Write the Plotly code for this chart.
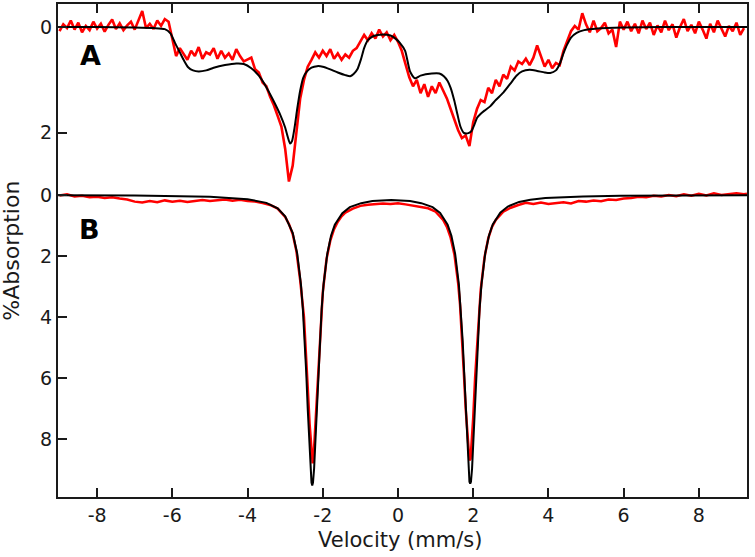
import numpy as np
import plotly.graph_objects as go

# Panel A, measured spectrum: one value per 0.1 mm/s channel, starting at -9.0 mm/s
A_START = -9.0
A_STEP = 0.1
a_data = [
    0.08, -0.05, 0.02, -0.12, 0.05, -0.08, 0.10, -0.02, 0.06, -0.10,   # -9.0 .. -8.1
    0.03, -0.06, 0.09, -0.04, -0.14, 0.04, -0.07, 0.06, -0.03, -0.10,  # -8.0 .. -7.1
    0.05, -0.12, -0.30, 0.02, -0.06, 0.04, -0.12, -0.02, -0.15, -0.10, # -7.0 .. -6.1
    0.25, 0.55, 0.40, 0.50, 0.62, 0.45, 0.55, 0.38, 0.60, 0.48,        # -6.0 .. -5.1
    0.52, 0.40, 0.60, 0.45, 0.58, 0.50, 0.62, 0.42, 0.55, 0.65,        # -5.0 .. -4.1
    0.62, 0.58, 0.80, 0.86, 1.05, 1.12, 1.32, 1.48, 1.68, 1.88,        # -4.0 .. -3.1
    2.30, 2.92, 2.62, 2.00, 1.35, 1.00, 0.75, 0.62, 0.48, 0.58,        # -3.0 .. -2.1
    0.45, 0.55, 0.42, 0.60, 0.50, 0.62, 0.52, 0.58, 0.45, 0.40,        # -2.0 .. -1.1
    0.28, 0.15, 0.25, 0.12, 0.22, 0.05, 0.18, 0.10, 0.25, 0.15,        # -1.0 .. -0.1
    0.28, 0.45, 0.70, 0.95, 1.12, 1.00, 1.25, 1.08, 1.32, 1.12,        # 0.0 .. 0.9
    1.25, 1.05, 1.20, 1.35, 1.55, 1.75, 1.95, 2.10, 2.05, 2.25,        # 1.0 .. 1.9
    1.80, 1.55, 1.38, 1.42, 1.15, 1.25, 1.00, 1.12, 0.90, 0.98,        # 2.0 .. 2.9
    0.75, 0.82, 0.65, 0.70, 0.60, 0.72, 0.58, 0.35, 0.55, 0.75,        # 3.0 .. 3.9
    0.62, 0.78, 0.68, 0.72, 0.45, 0.25, 0.08, -0.02, 0.05, -0.26,      # 4.0 .. 4.9
    -0.05, 0.10, -0.12, 0.08, 0.02, -0.08, 0.12, 0.05, 0.38, -0.10,    # 5.0 .. 5.9
    0.05, -0.10, 0.08, -0.06, 0.12, -0.12, 0.04, -0.08, 0.15, -0.03,   # 6.0 .. 6.9
    0.10, -0.12, 0.06, -0.05, 0.20, 0.00, -0.15, 0.08, -0.04, 0.12,    # 7.0 .. 7.9
    -0.10, 0.05, 0.22, -0.06, 0.10, -0.12, 0.04, 0.18, -0.02, 0.08,    # 8.0 .. 8.9
    -0.08, 0.15, 0.02,                                                 # 9.0 .. 9.2
]

# Panel A, fit
a_fit_v = [-9.04, -8.0, -7.0, -6.5, -6.2, -6.05, -5.93, -5.8, -5.7, -5.58,
           -5.45, -5.3, -5.1, -4.9, -4.6, -4.3, -4.1, -3.9, -3.7, -3.53,
           -3.4, -3.27, -3.13, -3.0, -2.93, -2.87, -2.82, -2.75, -2.68, -2.6,
           -2.52, -2.42, -2.3, -2.15, -2.0, -1.8, -1.6, -1.4, -1.27, -1.18,
           -1.08, -0.98, -0.9, -0.8, -0.65, -0.4, -0.2, -0.05, 0.05, 0.19,
           0.32, 0.45, 0.6, 0.9, 1.1, 1.22, 1.32, 1.4, 1.5, 1.58,
           1.66, 1.75, 1.85, 1.95, 2.03, 2.1, 2.2, 2.3, 2.45, 2.6,
           2.8, 3.0, 3.15, 3.3, 3.5, 3.7, 3.9, 4.05, 4.2, 4.3,
           4.4, 4.5, 4.6, 4.75, 4.95, 5.3, 6.0, 7.0, 9.28]
a_fit = [0.0, 0.0, 0.01, 0.02, 0.04, 0.12, 0.30, 0.48, 0.62, 0.76,
         0.82, 0.84, 0.82, 0.77, 0.72, 0.69, 0.70, 0.78, 0.92, 1.10,
         1.27, 1.45, 1.66, 1.90, 2.08, 2.20, 2.16, 1.90, 1.55, 1.20,
         0.96, 0.84, 0.77, 0.74, 0.75, 0.80, 0.86, 0.91, 0.93, 0.89,
         0.80, 0.60, 0.40, 0.25, 0.17, 0.14, 0.16, 0.23, 0.30, 0.45,
         0.84, 0.97, 0.92, 0.88, 0.88, 0.93, 1.02, 1.15, 1.40, 1.65,
         1.88, 2.00, 2.01, 1.97, 1.85, 1.72, 1.64, 1.58, 1.50, 1.38,
         1.24, 1.06, 0.92, 0.84, 0.81, 0.83, 0.86, 0.87, 0.82, 0.70,
         0.50, 0.33, 0.20, 0.11, 0.06, 0.03, 0.01, 0.0, 0.0]

# Panel B, measured spectrum
b_data_v = [-9.0, -8.8, -8.6, -8.4, -8.2, -8.0, -7.8, -7.6, -7.4, -7.2,
            -7.0, -6.8, -6.6, -6.4, -6.2, -6.0, -5.8, -5.6, -5.4, -5.2,
            -5.0, -4.8, -4.6, -4.4, -4.2, -4.0, -3.8, -3.6, -3.4, -3.2,
            -3.0, -2.9, -2.8, -2.7, -2.6, -2.5, -2.45, -2.4, -2.35, -2.3,
            -2.27, -2.24, -2.2, -2.15, -2.1, -2.05, -2.0, -1.9, -1.8, -1.7,
            -1.6, -1.5, -1.4, -1.2, -1.0, -0.8, -0.6, -0.4, -0.2, 0.0,
            0.2, 0.4, 0.6, 0.8, 1.0, 1.1, 1.2, 1.3, 1.4, 1.5,
            1.6, 1.65, 1.7, 1.75, 1.8, 1.85, 1.9, 1.93, 1.96, 2.0,
            2.05, 2.1, 2.15, 2.2, 2.3, 2.4, 2.5, 2.6, 2.8, 3.0,
            3.2, 3.4, 3.6, 3.8, 4.0, 4.2, 4.4, 4.6, 4.8, 5.0,
            5.2, 5.4, 5.6, 5.8, 6.0, 6.2, 6.4, 6.6, 6.8, 7.0,
            7.2, 7.4, 7.6, 7.8, 8.0, 8.2, 8.4, 8.6, 8.8, 9.0,
            9.2, 9.28]
b_data = [0.02, -0.02, 0.05, 0.03, 0.08, 0.06, 0.10, 0.08, 0.12, 0.15,
          0.22, 0.25, 0.20, 0.24, 0.18, 0.22, 0.19, 0.23, 0.20, 0.17,
          0.20, 0.18, 0.15, 0.19, 0.16, 0.20, 0.22, 0.27, 0.33, 0.45,
          0.72, 0.95, 1.28, 1.85, 2.80, 4.00, 5.00, 6.30, 7.50, 8.50,
          8.80, 8.50, 7.60, 6.40, 5.10, 4.10, 3.20, 2.10, 1.50, 1.12,
          0.88, 0.70, 0.58, 0.45, 0.36, 0.32, 0.31, 0.28, 0.30, 0.27,
          0.31, 0.35, 0.38, 0.44, 0.55, 0.68, 0.82, 1.05, 1.40, 1.95,
          2.90, 3.60, 4.60, 5.80, 7.00, 8.00, 8.70, 8.65, 8.20, 7.30,
          6.00, 4.90, 3.90, 3.10, 2.05, 1.42, 1.05, 0.82, 0.55, 0.42,
          0.33, 0.26, 0.30, 0.25, 0.30, 0.27, 0.24, 0.28, 0.20, 0.22,
          0.18, 0.21, 0.15, 0.17, 0.12, 0.10, 0.06, 0.08, 0.03, 0.05,
          0.00, 0.04, -0.02, 0.03, -0.04, 0.02, -0.05, 0.00, -0.03, -0.05,
          -0.02, -0.04]

# Panel B, fit
b_fit_v = [-9.04, -7.0, -5.0, -4.0, -3.5, -3.2, -3.0, -2.8, -2.68, -2.58,
           -2.53, -2.48, -2.44, -2.4, -2.36, -2.33, -2.3, -2.28, -2.26, -2.23,
           -2.2, -2.16, -2.12, -2.08, -2.03, -1.98, -1.88, -1.78, -1.68, -1.48,
           -1.28, -0.98, -0.68, -0.18, 0.32, 0.62, 0.92, 1.12, 1.32, 1.42,
           1.52, 1.62, 1.67, 1.72, 1.76, 1.8, 1.84, 1.87, 1.9, 1.92,
           1.94, 1.97, 2.0, 2.04, 2.08, 2.12, 2.17, 2.22, 2.32, 2.42,
           2.52, 2.72, 2.92, 3.22, 3.52, 3.92, 4.42, 4.92, 5.92, 7.0,
           9.28]
b_fit = [0.01, 0.02, 0.06, 0.14, 0.26, 0.44, 0.70, 1.24, 1.92, 2.94,
         3.73, 4.77, 5.81, 7.01, 8.21, 8.96, 9.43, 9.52, 9.43, 8.96,
         8.21, 7.01, 5.81, 4.77, 3.74, 2.95, 1.93, 1.34, 0.98, 0.60,
         0.40, 0.27, 0.20, 0.17, 0.20, 0.27, 0.40, 0.59, 0.98, 1.34,
         1.93, 2.95, 3.74, 4.78, 5.82, 7.01, 8.21, 8.96, 9.40, 9.46,
         9.40, 8.96, 8.21, 7.01, 5.81, 4.76, 3.72, 2.93, 1.91, 1.33,
         0.97, 0.58, 0.38, 0.23, 0.16, 0.10, 0.07, 0.05, 0.03, 0.02,
         0.01]

x_ticks = [-8, -6, -4, -2, 0, 2, 4, 6, 8]
x_ticktext = ["-8", "-6", "-4", "-2", "0", "2", "4", "6", "8"]
a_yticks = [0, 2]
b_yticks = [0, 2, 4, 6, 8]

X_RANGE = [-9.04, 9.28]
SPLIT = 0.627
AXIS_COLOR = "#1a1a1a"
FONT = "DejaVu Sans"

a_data_v = np.round(A_START + A_STEP * np.arange(len(a_data)), 2)

fig = go.Figure()
fig.add_trace(go.Scatter(x=a_data_v, y=a_data, xaxis="x2", yaxis="y", mode="lines",
                         line=dict(color="#ff0000", width=2.6)))
fig.add_trace(go.Scatter(x=a_fit_v, y=a_fit, xaxis="x2", yaxis="y", mode="lines",
                         line=dict(color="black", width=2, shape="spline", smoothing=0.6)))
fig.add_trace(go.Scatter(x=b_data_v, y=b_data, xaxis="x", yaxis="y2", mode="lines",
                         line=dict(color="#ff0000", width=2.5)))
fig.add_trace(go.Scatter(x=b_fit_v, y=b_fit, xaxis="x", yaxis="y2", mode="lines",
                         line=dict(color="black", width=2)))

axis_style = dict(
    showline=True, linecolor=AXIS_COLOR, linewidth=2,
    ticks="inside", ticklen=9, tickwidth=2, tickcolor=AXIS_COLOR,
    showgrid=False, zeroline=False, automargin=False,
    tickfont=dict(family=FONT, size=19, color=AXIS_COLOR),
)

fig.update_layout(
    width=755, height=557,
    margin={"l": 58, "r": 8, "t": 4, "b": 60, "autoexpand": False},
    paper_bgcolor="white", plot_bgcolor="white",
    showlegend=False,
    xaxis=dict(axis_style, anchor="y2", range=X_RANGE, tickvals=x_ticks, ticktext=x_ticktext),
    xaxis2=dict(axis_style, anchor="y", side="top", matches="x", range=X_RANGE,
                tickvals=x_ticks, showticklabels=False),
    yaxis=dict(axis_style, anchor="x2", domain=[SPLIT, 1], range=[3.04, -0.434],
               tickvals=a_yticks, mirror=True),
    yaxis2=dict(axis_style, anchor="x", domain=[0, SPLIT], range=[9.9, -0.23],
                tickvals=b_yticks, mirror=True),
    annotations=[
        dict(text="Velocity (mm/s)", xref="paper", yref="paper", x=0.496, y=-0.088,
             showarrow=False, xanchor="center", yanchor="middle",
             font=dict(family=FONT, size=21, color=AXIS_COLOR)),
        dict(text="%Absorption", xref="paper", yref="paper", x=-0.068, y=0.5,
             showarrow=False, textangle=-90, xanchor="center", yanchor="middle",
             font=dict(family=FONT, size=22, color=AXIS_COLOR)),
        dict(text="<b>A</b>", xref="x2", yref="y", x=-8.17, y=0.53, showarrow=False,
             xanchor="center", yanchor="middle", font=dict(family=FONT, size=27, color="black")),
        dict(text="<b>B</b>", xref="x", yref="y2", x=-8.2, y=1.15, showarrow=False,
             xanchor="center", yanchor="middle", font=dict(family=FONT, size=27, color="black")),
    ],
)

# the page's default body margin would shift the figure by 8 px
fig.write_html("out.html", config={"displayModeBar": False},
               post_script="document.body.style.margin = '0';")
